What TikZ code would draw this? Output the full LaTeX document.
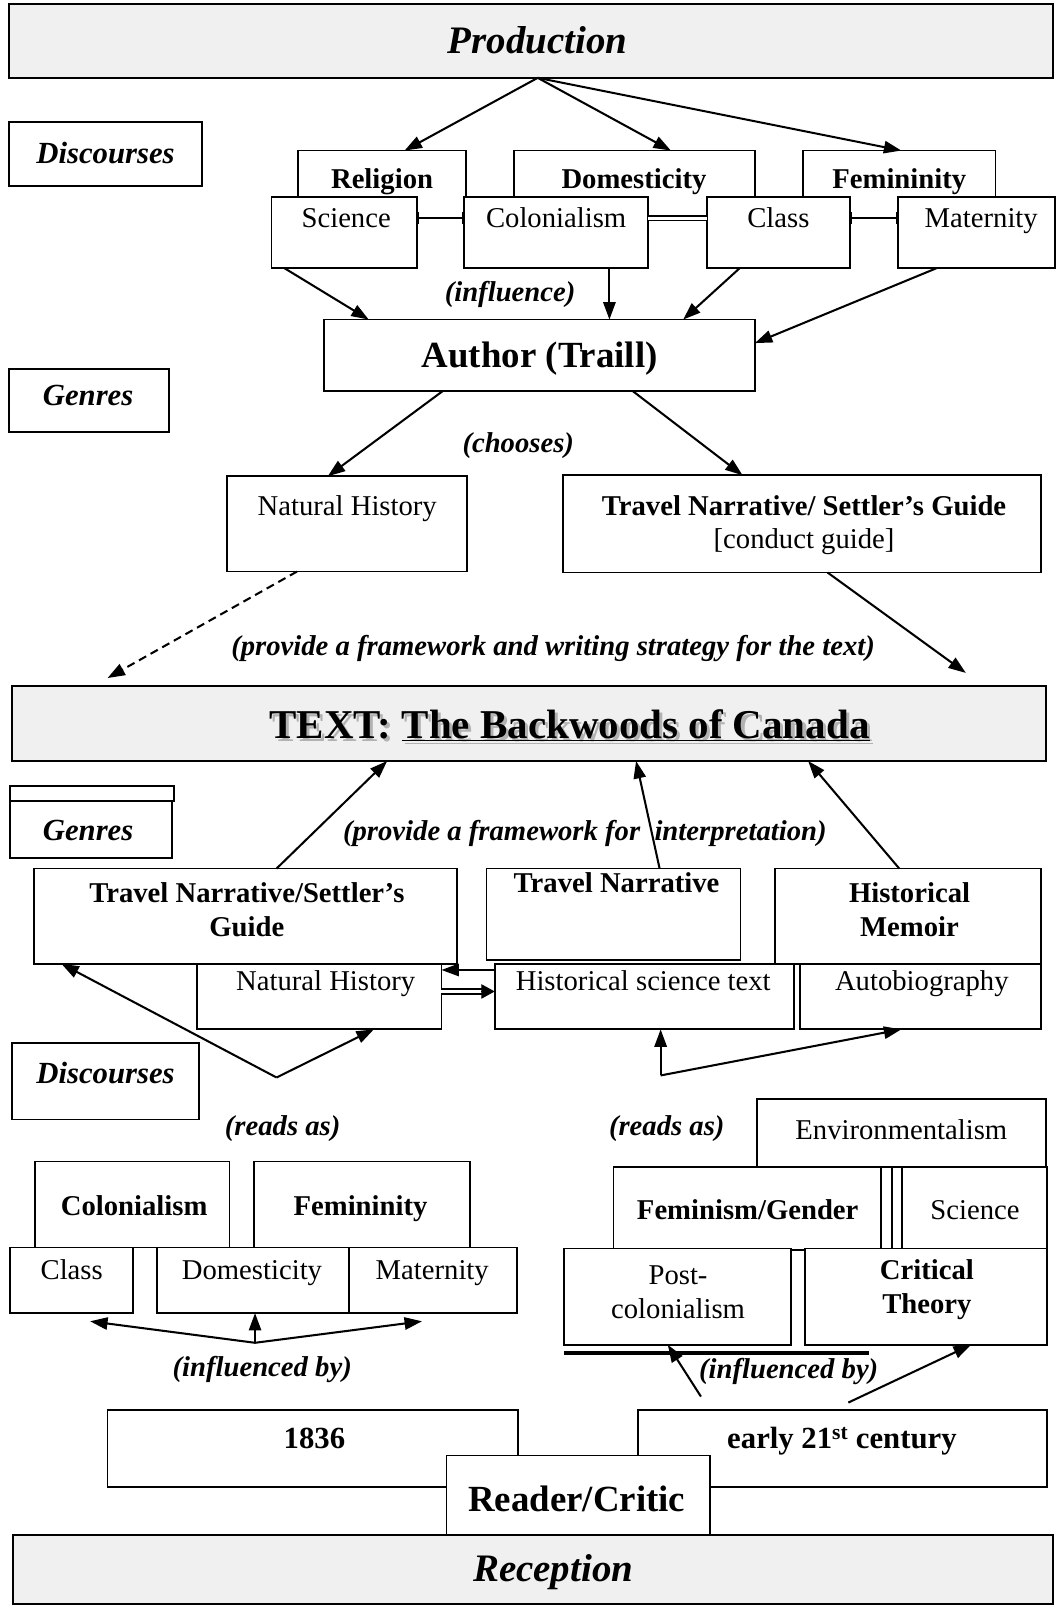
\documentclass[tikz,border=0pt]{standalone}
\usepackage{fontspec}
\setmainfont{Liberation Serif}
\usetikzlibrary{arrows.meta,fit,calc}
\newcommand\mybox[6][box]{\node[#1, fit={(#3,#4) (#5,#6)}] (#2) {};}
\begin{document}
\begin{tikzpicture}[x=1pt,y=-1pt,
  box/.style={draw, line width=1.8pt, fill=white, inner sep=0pt, outer sep=0pt},
  gbox/.style={box, fill=gray!12},
  ubox/.style={fill=white, inner sep=0pt, outer sep=0pt},
  bline/.style={line width=1.8pt},
  arr/.style={line width=2pt, -{Triangle[length=17pt,width=12pt]}},
  darr/.style={arr, dashed, dash pattern=on 8pt off 5pt},
  rgm/.style={font=\fontsize{28}{33}\selectfont, inner sep=0pt, align=center},
  bfm/.style={font=\fontsize{28}{33}\selectfont\bfseries, inner sep=0pt, align=center},
  rg/.style={rgm, text height=19pt, text depth=0pt},
  bf/.style={bfm, text height=19pt, text depth=0pt},
  bi/.style={font=\fontsize{28}{33}\selectfont\bfseries\itshape, inner sep=0pt, text height=19pt, text depth=0pt},
  hd/.style={font=\fontsize{30}{34}\selectfont\bfseries\itshape, inner sep=0pt, text height=20pt, text depth=0pt},
  big/.style={font=\fontsize{36}{40}\selectfont\bfseries, inner sep=0pt, text height=24pt, text depth=0pt},
  barc/.style={line width=1.8pt, {Bar[width=12pt]}-{Bar[width=12pt]}},
]
\useasboundingbox (0,0) rectangle (1031,1568);

% ---------- Production ----------
\mybox[gbox]{prod}{9}{4}{1028}{76}
\node[font=\fontsize{38}{40}\selectfont\bfseries\itshape, inner sep=0pt, text height=25pt, text depth=0pt] (prodt) at (525,40) {Production};

\mybox{disc1}{9}{119}{197}{182}
\node[hd] (disc1t) at (103,150) {Discourses};

% upper discourse boxes (open at bottom)
\mybox[ubox]{relig}{291}{147}{455}{205}
\mybox[ubox]{domes}{502}{147}{737}{205}
\mybox[ubox]{femin}{784}{147}{972}{205}
\foreach \n in {relig,domes,femin}
  \draw[bline] (\n.south west) |- (\n.north east) -- (\n.south east);
\node[bf] (religt) at (373,175) {Religion};
\node[bf] (domest) at (619,175) {Domesticity};
\node[bf] (femint) at (878,175) {Femininity};

% lower discourse boxes
\mybox{sci}{265}{192}{407}{262}
\mybox{colon}{453}{192}{633}{262}
\mybox{cls}{690}{192}{830}{262}
\mybox{mat}{877}{192}{1030}{262}
\node[rg] (scit) at (338,213) {Science};
\node[rg] (colont) at (543,213) {Colonialism};
\node[rg] (clst) at (760,213) {Class};
\node[rg] (matt) at (958,213) {Maternity};

\draw[barc] (sci.east |- scit) -- (colon.west |- scit);
\draw[double, double distance=3pt, line width=1.4pt] (colon.east |- colont) -- (cls.west |- colont);
\draw[barc] (cls.east |- clst) -- (mat.west |- clst);

\draw[arr] (prod.south -| 525,0) -- (relig.north -| 395,0);
\draw[arr] (prod.south -| 525,0) -- (domes.north -| 655,0);
\draw[arr] (prod.south -| 525,0) -- (femin.north -| 880,0);

% ---------- Author ----------
\mybox{auth}{316}{312}{737}{382}
\node[big] (autht) at (527,347) {Author (Traill)};
\draw[arr] (sci.south -| 278,0) -- (auth.north -| 360,0);
\draw[arr] (colon.south -| 595,0) -- (auth.north -| 595,0);
\draw[arr] (cls.south -| 722,0) -- (auth.north -| 667,0);
\draw[arr] (mat.south -| 914,0) -- (auth.east |- 0,335);
\node[bi] (infl) at (498,285) {(influence)};

\mybox{gen1}{9}{360}{165}{422}
\node[hd] (gen1t) at (86,386) {Genres};

% ---------- chosen genres ----------
\mybox{nat}{222}{465}{456}{558}
\mybox{trav}{550}{464}{1016}{559}
\node[rg] (natt) at (339,494) {Natural History};
\node[bf] (travt1) at (785,494) {Travel Narrative/ Settler’s Guide};
\node[rg] (travt2) at (785,526) {[conduct guide]};
\draw[arr] (auth.south -| 432,0) -- (nat.north -| 320,0);
\draw[arr] (auth.south -| 618,0) -- (trav.north -| 725,0);
\node[bi] (choos) at (506,432) {(chooses)};

% ---------- TEXT ----------
\mybox[gbox]{tbox}{12}{670}{1021}{743}
\node[font=\fontsize{40}{42}\selectfont\bfseries, inner sep=0pt, text=gray!60] (titsh) at (559,711) {TEXT: \underline{The Backwoods of Canada}};
\node[font=\fontsize{40}{42}\selectfont\bfseries, inner sep=0pt] (tit) at (556,708) {TEXT: \underline{The Backwoods of Canada}};

\coordinate (tipL) at (105,662);
\coordinate (tipR) at (943,657);
\draw[darr] (nat.south -| 290,0) -- (tipL);
\draw[arr] (trav.south -| 808,0) -- (tipR);
\node[bi] (prov1) at (540,630) {(provide a framework and writing strategy for the text)};

% ---------- lower genres ----------
\mybox{gen2a}{10}{767}{170}{782}
\mybox{gen2}{10}{782}{168}{838}
\node[hd] (gen2t) at (86,811) {Genres};

\mybox{tns}{33}{848}{446}{941}
\mybox{tn}{475}{848}{723}{937}
\mybox{hm}{757}{848}{1016}{941}
\mybox{nh}{192}{941}{431}{1005}
\mybox{hst}{483}{941}{775}{1005}
\mybox{ab}{781}{941}{1016}{1005}
\node[bfm] (tnst) at (241,888) {Travel Narrative/Settler’s\\Guide};
\node[bf] (tnt) at (602,862) {Travel Narrative};
\node[bfm] (hmt) at (888,888) {Historical\\Memoir};
\node[rg] (nht) at (318,958) {Natural History};
\node[rg] (hstt) at (628,958) {Historical science text};
\node[rg] (abt) at (900,958) {Autobiography};

\draw[arr] (tns.north -| 270,0) -- (tbox.south -| 378,0);
\draw[arr] (tn.north -| 644,0) -- (tbox.south -| 621,0);
\draw[arr] (hm.north -| 878,0) -- (tbox.south -| 789,0);
\node[bi] (prov2) at (571,811) {(provide a framework for\ \ interpretation)};

\draw[arr] (hst.west |- 0,947) -- (nh.east |- 0,947);
\draw[line width=1.4pt, double, double distance=3.5pt, shorten >=12pt] (nh.east |- 0,968) -- (hst.west |- 0,968);
\draw[line width=1pt, -{Triangle[length=13pt,width=14pt]}] ($(hst.west |- 0,968)+(-13,0)$) -- (hst.west |- 0,968);

% reads as
\coordinate (lap) at (270,1052);
\draw[arr] (lap) -- (tns.south -| 60,0);
\draw[arr] (lap) -- (nh.south -| 365,0);
\coordinate (rap) at (645,1050);
\draw[arr] (rap) -- (hst.south -| 645,0);
\draw[arr] (rap) -- (ab.south -| 880,0);

\mybox{disc2}{12}{1018}{194}{1093}
\node[hd] (disc2t) at (103,1048) {Discourses};
\node[bi] (rd1) at (276,1099) {(reads as)};
\node[bi] (rd2) at (651,1099) {(reads as)};

% ---------- 1836 discourses ----------
\mybox{colL}{34}{1134}{224}{1218}
\mybox{femL}{248}{1134}{459}{1218}
\mybox{clsL}{10}{1218}{130}{1282}
\mybox{domL}{153}{1218}{341}{1282}
\mybox{matL}{341}{1218}{505}{1282}
\node[bf] (colLt) at (131,1177) {Colonialism};
\node[bf] (femLt) at (352,1177) {Femininity};
\node[rg] (clsLt) at (70,1240) {Class};
\node[rg] (domLt) at (246,1240) {Domesticity};
\node[rg] (matLt) at (422,1240) {Maternity};

\coordinate (bap) at (249,1311);
\coordinate (clsTip) at (88,1290);
\coordinate (matTip) at (412,1290);
\draw[arr] (bap) -- (clsTip);
\draw[arr] (bap) -- (matTip);
\draw[arr] (bap) -- (domL.south -| 249,0);
\node[bi] (ib1) at (256,1334) {(influenced by)};

% ---------- 21st century discourses ----------
\mybox{env}{739}{1073}{1021}{1139}
\mybox{fg}{599}{1139}{860}{1220}
\mybox{sci2}{881}{1139}{1022}{1220}
\draw[bline] (871,1139) -- (871,1220);
\mybox{pc}{551}{1219}{772}{1313}
\mybox{ct}{786}{1219}{1022}{1313}
\draw[line width=3pt] (551,1321) -- (848,1321);
\node[rg] (envt) at (880,1103) {Environmentalism};
\node[bf] (fgt) at (730,1181) {Feminism/Gender};
\node[rg] (sci2t) at (952,1181) {Science};
\node[rgm] (pct) at (662,1262) {Post-\\colonialism};
\node[bfm] (ctt) at (905,1259) {Critical\\Theory};

% ---------- reader ----------
\mybox{y1836}{105}{1377}{506}{1452}
\mybox{c21}{623}{1377}{1022}{1452}
\node[font=\fontsize{30}{34}\selectfont\bfseries, inner sep=0pt, text height=20pt, text depth=0pt] (y1836t) at (307,1404) {1836};
\node[font=\fontsize{30}{34}\selectfont\bfseries, inner sep=0pt, text height=20pt, text depth=0pt] (c21t) at (822,1404) {early 21\textsuperscript{st} century};

\draw[arr, shorten <=16pt] (c21.north -| 693,0) -- (pc.south -| 652,0);
\draw[arr, shorten <=18pt] (c21.north -| 812,0) -- (ct.south -| 948,0);
\node[bi] (ib2) at (770,1336) {(influenced by)};

\mybox{rc}{436}{1421}{693}{1499}
\node[big] (rct) at (563,1464) {Reader/Critic};

\mybox[gbox]{recp}{13}{1499}{1028}{1566}
\node[font=\fontsize{38}{40}\selectfont\bfseries\itshape, inner sep=0pt, text height=25pt, text depth=0pt] (recpt) at (540,1532) {Reception};

\end{tikzpicture}
\end{document}
